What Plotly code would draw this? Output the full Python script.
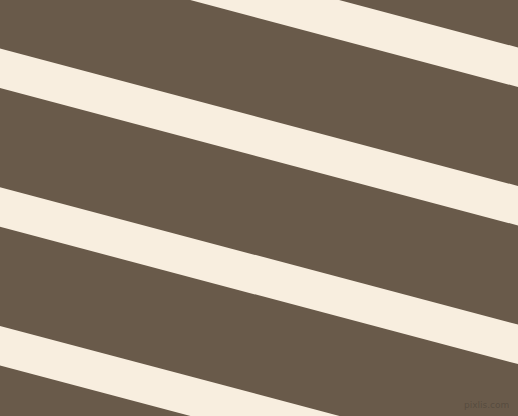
import plotly.graph_objects as go

# stripe edges (pixel rows) where each cream band meets the left and right border
band_top_left = [-90.0, 48.5, 187.3, 326.0]
band_top_right = [47.5, 186.0, 324.6, 463.3]
band_width = [39.5, 39.5, 39.5, 39.5]

BROWN = "#695a4a"
CREAM = "#f8eedf"
W, H = 518, 416


def make_fig():
    traces = []
    for lt, rt, bw in zip(band_top_left, band_top_right, band_width):
        traces.append(go.Scatter(
            x=[0, W, W, 0, 0],
            y=[lt, rt, rt + bw, lt + bw, lt],
            mode="lines", fill="toself", fillcolor=CREAM,
            line=dict(width=0, color=CREAM), hoverinfo="skip",
            showlegend=False))

    layout = go.Layout(
        width=W, height=H,
        margin=dict(l=0, r=0, t=0, b=0),
        paper_bgcolor=BROWN, plot_bgcolor=BROWN,
        xaxis=dict(range=[0, W], visible=False, fixedrange=True),
        yaxis=dict(range=[H, 0], visible=False, fixedrange=True),
        annotations=[dict(text="pixlis.com", x=511, y=405, xref="x", yref="y",
                          xanchor="right", yanchor="middle", showarrow=False,
                          font=dict(family="DejaVu Sans", size=9,
                                    color="rgba(85,74,62,0.9)"))],
    )
    return go.Figure(data=traces, layout=layout)


if __name__ == "__main__":
    fig = make_fig()
    fig.write_html("out.html", config={"displayModeBar": False},
                   post_script="document.body.style.margin='0';")
